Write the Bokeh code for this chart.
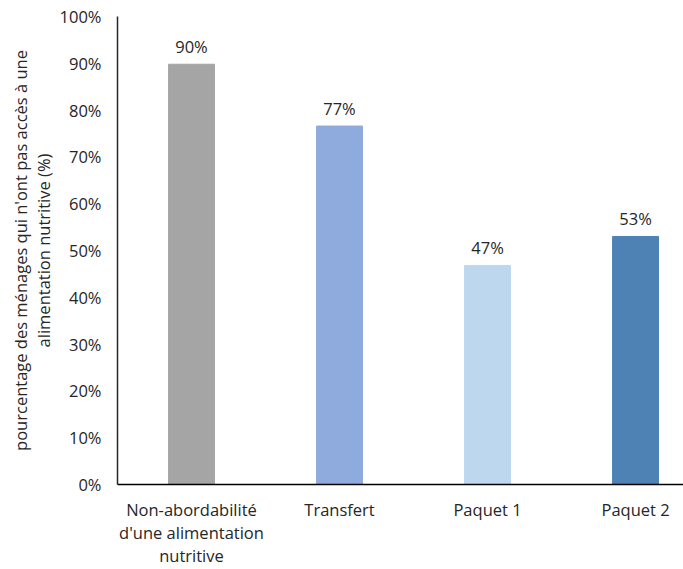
from bokeh.plotting import figure
from bokeh.models import ColumnDataSource, Range1d, FixedTicker, NumeralTickFormatter, LabelSet
from bokeh.core.properties import value
from bokeh.embed import file_html
from bokeh.resources import INLINE

categories = ["Non-abordabilité\nd'une alimentation\nnutritive", "Transfert", "Paquet 1", "Paquet 2"]
values = [0.898, 0.766, 0.468, 0.530]
labels = ["90%", "77%", "47%", "53%"]
colors = ["#A5A5A5", "#8FAADC", "#BDD7EE", "#4E81B4"]
y_ticks = [0, 0.1, 0.2, 0.3, 0.4, 0.5, 0.6, 0.7, 0.8, 0.9, 1.0]

xs = list(range(len(categories)))
src = ColumnDataSource(dict(x=xs, top=values, color=colors, label=labels))

FONT = "Open Sans"
FS = "16.5px"
TXT = "#262626"
p = figure(width=683, height=569, output_backend="svg", toolbar_location=None,
           x_range=Range1d(-0.5, 3.324), y_range=Range1d(0, 1.0))
p.min_border_left = 117
p.min_border_right = 0
p.min_border_top = 16
p.min_border_bottom = 0
p.outline_line_color = None
p.grid.visible = False

p.vbar(x="x", top="top", width=0.31, color="color", source=src)

p.add_layout(LabelSet(x="x", y="top", text="label", source=src, text_align="center",
                      text_baseline="bottom", y_offset=6, text_font=value(FONT),
                      text_font_size=FS, text_color=TXT))

p.xaxis.ticker = FixedTicker(ticks=xs)
p.xaxis.major_label_overrides = {i: c for i, c in enumerate(categories)}
p.xaxis.major_tick_line_color = None
p.xaxis.major_tick_out = 0
p.xaxis.major_tick_in = 0
p.xaxis.minor_tick_line_color = None
p.xaxis.axis_line_color = "#000000"
p.xaxis.axis_line_width = 1.5
p.xaxis.major_label_text_font = FONT
p.xaxis.major_label_text_font_size = FS
p.xaxis.major_label_text_color = TXT
p.xaxis.major_label_text_line_height = 1.0
p.xaxis.major_label_standoff = 13

p.yaxis.ticker = FixedTicker(ticks=y_ticks)
p.yaxis.formatter = NumeralTickFormatter(format="0%")
p.yaxis.major_tick_line_color = None
p.yaxis.major_tick_out = 0
p.yaxis.major_tick_in = 0
p.yaxis.minor_tick_line_color = None
p.yaxis.axis_line_color = "#262626"
p.yaxis.axis_line_width = 1.5
p.yaxis.major_label_text_font = FONT
p.yaxis.major_label_text_font_size = FS
p.yaxis.major_label_text_color = TXT
p.yaxis.major_label_standoff = 16
p.yaxis.axis_label = "pourcentage des ménages qui n'ont pas accès à une\nalimentation nutritive (%)"
p.yaxis.axis_label_text_font = FONT
p.yaxis.axis_label_text_font_style = "normal"
p.yaxis.axis_label_text_font_size = FS
p.yaxis.axis_label_text_color = TXT
p.yaxis.axis_label_text_line_height = 1.0
p.yaxis.axis_label_standoff = 2

open("out.html", "w").write(file_html(p, INLINE))
